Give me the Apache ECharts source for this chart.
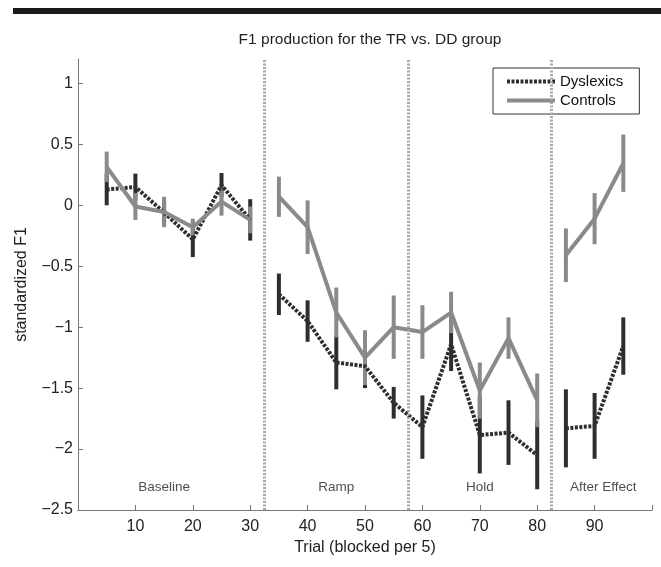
<!DOCTYPE html>
<html>
<head>
<meta charset="utf-8">
<script src="https://cdn.jsdelivr.net/npm/echarts@6/dist/echarts.min.js"></script>
<style>
  html, body { margin: 0; padding: 0; background: #fff; }
  #chart { width: 661px; height: 567px; }
</style>
</head>
<body>
<div id="chart"></div>
<script>
// trial blocks (x) and per-block means / half error bars
const trials = [5, 10, 15, 20, 25, 30, 35, 40, 45, 50, 55, 60, 65, 70, 75, 80, 85, 90, 95];

const dyslexicsMean = [0.13, 0.15, -0.06, -0.28, 0.165, -0.12, -0.73, -0.95, -1.29, -1.32,
  -1.62, -1.82, -1.14, -1.885, -1.865, -2.05, -1.83, -1.81, -1.155];
const dyslexicsErr = [0.13, 0.11, 0.1, 0.145, 0.1, 0.17, 0.17, 0.17, 0.22, 0.18,
  0.13, 0.26, 0.22, 0.315, 0.265, 0.28, 0.32, 0.27, 0.235];

const controlsMean = [0.315, -0.01, -0.055, -0.18, 0.03, -0.12, 0.07, -0.18, -0.88, -1.25,
  -1.0, -1.04, -0.88, -1.52, -1.09, -1.6, -0.41, -0.11, 0.345];
const controlsErr = [0.125, 0.11, 0.125, 0.07, 0.115, 0.11, 0.165, 0.22, 0.205, 0.225,
  0.26, 0.22, 0.17, 0.23, 0.17, 0.22, 0.22, 0.21, 0.235];

// phase boundaries and labels
const phaseBounds = [32.5, 57.5, 82.5];
const lineBreaks = [32.5, 82.5];
const phaseNames = ['Baseline', 'Ramp', 'Hold', 'After Effect'];
const phaseCenters = [15, 45, 70, 91.5];
const phaseLabelY = -2.31;

const yTicks = [-2.5, -2, -1.5, -1, -0.5, 0, 0.5, 1];
const xTicks = [10, 20, 30, 40, 50, 60, 70, 80, 90];

const font = 'Liberation Sans, Arial, sans-serif';
const darkColor = '#2e2e2e';
const grayColor = '#8a8a8a';

function lineData(mean) {
  const out = [];
  trials.forEach((t, i) => {
    if (i > 0 && lineBreaks.some(b => trials[i - 1] < b && t > b)) {
      out.push([(trials[i - 1] + t) / 2, '-']);
    }
    out.push([t, mean[i]]);
  });
  return out;
}

function errorSeries(mean, err, color) {
  return {
    type: 'custom',
    silent: true,
    data: trials.map((t, i) => [t, mean[i] - err[i], mean[i] + err[i]]),
    renderItem: (params, api) => {
      const lo = api.coord([api.value(0), api.value(1)]);
      const hi = api.coord([api.value(0), api.value(2)]);
      return {
        type: 'line',
        shape: { x1: lo[0], y1: lo[1], x2: hi[0], y2: hi[1] },
        style: { stroke: color, lineWidth: 4, lineCap: 'butt' }
      };
    }
  };
}

const chart = echarts.init(document.getElementById('chart'));

const option = {
  animation: false,
  backgroundColor: '#fff',
  textStyle: { fontFamily: font },
  graphic: [{
    type: 'rect',
    left: 13, top: 8,
    shape: { width: 648, height: 6 },
    style: { fill: '#1a1a1a' }
  }],
  title: {
    text: 'F1 production for the TR vs. DD group',
    left: 365,
    textAlign: 'center',
    top: 27,
    textStyle: { fontSize: 15.5, fontWeight: 'normal', color: '#222', fontFamily: font }
  },
  legend: {
    data: ['Dyslexics', 'Controls'],
    orient: 'vertical',
    left: 493,
    top: 68,
    padding: [6, 16, 6, 12],
    itemGap: 4,
    itemWidth: 48,
    itemHeight: 16,
    borderColor: '#333',
    borderWidth: 1,
    backgroundColor: '#fff',
    itemStyle: { opacity: 0 },
    lineStyle: { width: 4 },
    textStyle: { fontSize: 15, color: '#111', fontFamily: font }
  },
  grid: { left: 78, right: 9, top: 59, bottom: 57 },
  xAxis: {
    type: 'value',
    min: 0, max: 100, interval: 10,
    name: 'Trial (blocked per 5)',
    nameLocation: 'middle',
    nameGap: 29,
    nameTextStyle: { fontSize: 16, color: '#222' },
    axisLine: { onZero: false, lineStyle: { color: '#777' } },
    axisTick: { inside: true, length: 5, customValues: xTicks.concat([100]), lineStyle: { color: '#777' } },
    axisLabel: { customValues: xTicks, fontSize: 16, color: '#222', margin: 9 },
    splitLine: { show: false }
  },
  yAxis: {
    type: 'value',
    min: -2.5, max: 1.2, interval: 0.5,
    name: 'standardized F1',
    nameLocation: 'middle',
    nameGap: 48,
    nameTextStyle: { fontSize: 16, color: '#222' },
    axisLine: { show: true, onZero: false, lineStyle: { color: '#777' } },
    axisTick: { show: true, inside: true, length: 5, customValues: yTicks, lineStyle: { color: '#777' } },
    axisLabel: {
      customValues: yTicks,
      fontSize: 16, color: '#222', margin: 5,
      formatter: v => (v < 0 ? '\u2212' + Math.abs(v) : String(v))
    },
    splitLine: { show: false }
  },
  series: [
    {
      type: 'scatter',
      silent: true,
      symbolSize: 0,
      data: phaseCenters.map((x, i) => ({ value: [x, phaseLabelY], name: phaseNames[i] })),
      label: { show: true, position: 'inside', formatter: p => p.name, fontSize: 13.5, color: '#222' },
      markLine: {
        silent: true,
        symbol: ['none', 'none'],
        label: { show: false },
        lineStyle: { color: '#a8a8a8', type: [2, 1.5], width: 3 },
        data: phaseBounds.map(b => ({ xAxis: b }))
      }
    },
    errorSeries(dyslexicsMean, dyslexicsErr, darkColor),
    {
      name: 'Dyslexics',
      type: 'line',
      symbol: 'none',
      showSymbol: false,
      connectNulls: false,
      data: lineData(dyslexicsMean),
      lineStyle: { color: darkColor, width: 4, type: [3, 1.5] },
      itemStyle: { color: darkColor }
    },
    errorSeries(controlsMean, controlsErr, grayColor),
    {
      name: 'Controls',
      type: 'line',
      symbol: 'none',
      showSymbol: false,
      connectNulls: false,
      data: lineData(controlsMean),
      lineStyle: { color: grayColor, width: 4 },
      itemStyle: { color: grayColor }
    }
  ]
};

chart.setOption(option);
</script>
</body>
</html>
